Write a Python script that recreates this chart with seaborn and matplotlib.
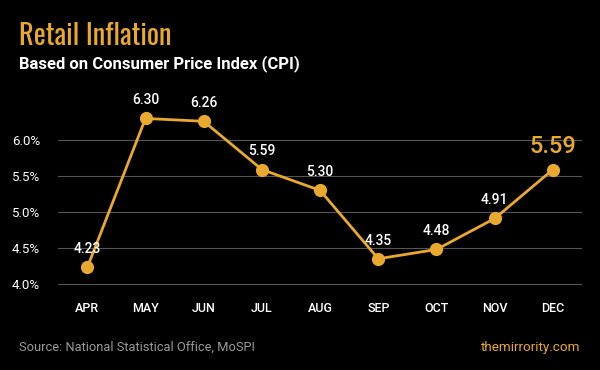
import numpy as np
import pandas as pd
import seaborn as sns
import matplotlib.pyplot as plt
from matplotlib import font_manager

months = ["APR", "MAY", "JUN", "JUL", "AUG", "SEP", "OCT", "NOV", "DEC"]
cpi = [4.23, 6.30, 6.26, 5.59, 5.30, 4.35, 4.48, 4.91, 5.59]
yticks = [4.0, 4.5, 5.0, 5.5, 6.0]

gold = "#E9A92E"
sns.set_style("dark", {"axes.facecolor": "black", "figure.facecolor": "black"})
plt.rcParams["font.family"] = ["Roboto", "DejaVu Sans"]
plt.rcParams["font.stretch"] = "normal"

df = pd.DataFrame({"month": months, "cpi": cpi})
df["pos"] = np.arange(len(df))

fig = plt.figure(figsize=(6, 3.7), dpi=100)
ax = fig.add_axes([0.097, 0.213, 0.873, 0.535])

sns.lineplot(data=df, x="pos", y="cpi", ax=ax, color=gold, linewidth=2,
             marker="o", markersize=9.5, markeredgewidth=0)

for i, v in enumerate(cpi):
    if i == len(cpi) - 1:
        ax.annotate(f"{v:.2f}", (i, v), xytext=(0, 8), textcoords="offset points",
                    ha="center", va="bottom", color=gold, fontsize=17,
                    fontweight=500, fontstretch="normal")
    else:
        ax.annotate(f"{v:.2f}", (i, v), xytext=(0, 8), textcoords="offset points",
                    ha="center", va="bottom", color="white", fontsize=10,
                    fontweight=500, fontstretch="normal")

ax.set_xlim(-0.5, 8.5)
ax.set_ylim(3.9, 6.65)
ax.set_xticks(df["pos"])
ax.set_xticklabels(months, color="white", fontsize=9, fontweight=500, fontstretch="normal")
ax.set_yticks(yticks)
ax.set_yticklabels([f"{t:.1f}%" for t in yticks], color="white", fontsize=9.5)
ax.tick_params(axis="x", length=0, pad=8)
ax.tick_params(axis="y", length=0, pad=13)
ax.grid(axis="y", color="#555555", linewidth=0.8)
ax.grid(axis="x", visible=False)
ax.set_xlabel("")
ax.set_ylabel("")
for s in ax.spines.values():
    s.set_visible(False)

# narrow font for the headline, whichever is installed
names = {f.name for f in font_manager.fontManager.ttflist}
title_font = dict(family="DejaVu Sans", fontstretch="condensed", fontsize=18, fontweight="bold")
for name, size, weight in [("Oswald", 20.5, "bold"), ("Fjalla One", 20, "normal"),
                           ("Roboto Condensed", 21, "bold"), ("Archivo Narrow", 21, "bold"),
                           ("Liberation Sans Narrow", 21, "bold")]:
    if name in names:
        title_font = dict(family=name, fontsize=size, fontweight=weight)
        break
fig.text(0.032, 0.878, "Retail Inflation", color=gold, va="baseline", **title_font)
fig.text(0.032, 0.816, "Based on Consumer Price Index (CPI)", color="white",
         fontsize=12, fontweight="bold", va="baseline")
fig.text(0.032, 0.052, "Source: National Statistical Office, MoSPI", color="#9a9a9a",
         fontsize=9.3, va="baseline")
fig.text(0.968, 0.052, "themirrority.com", color=gold, fontsize=9.7, ha="right",
         va="baseline")

fig.savefig("out.png", dpi=100, facecolor="black")
